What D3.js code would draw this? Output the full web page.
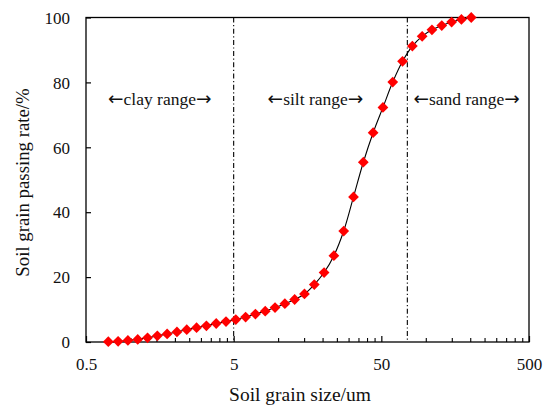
<!DOCTYPE html>
<html>
<head>
<meta charset="utf-8">
<script src="https://cdn.jsdelivr.net/npm/d3@7"></script>
<style>
  html, body { margin: 0; padding: 0; background: #fff; }
  svg { display: block; }
  text { font-family: "Liberation Serif", "Times New Roman", serif; fill: #111; }
</style>
</head>
<body>
<svg id="chart" width="543" height="407"></svg>
<script>
// ---- data ----
const grainSize = [0.708, 0.825, 0.961, 1.12, 1.305, 1.521, 1.772, 2.065, 2.406, 2.804,
  3.268, 3.808, 4.437, 5.17, 6.025, 7.021, 8.18, 9.53, 11.11, 12.94,
  15.08, 17.58, 20.48, 23.86, 27.81, 32.4, 37.76, 44.0, 51.27, 59.74,
  69.6, 81.1, 94.5, 110.1, 128.3, 149.6, 174.3, 203.1];
const passingRate = [0.1, 0.2, 0.5, 0.8, 1.3, 1.9, 2.5, 3.1, 3.8, 4.4,
  5.0, 5.7, 6.3, 6.9, 7.7, 8.6, 9.5, 10.6, 11.8, 13.1,
  14.8, 17.7, 21.4, 26.6, 34.2, 44.7, 55.4, 64.5, 72.3, 80.1,
  86.5, 91.2, 94.2, 96.2, 97.5, 98.6, 99.4, 100];
const xTickValues = [0.5, 5, 50, 500];
const yTickValues = [0, 20, 40, 60, 80, 100];
const boundaries = [5, 75];
const rangeLabels = ["clay range", "silt range", "sand range"];
const rangeLabelX = [1.58, 17.9, 189];
const rangeLabelY = 73;
const xTitle = "Soil grain size/um";
const yTitle = "Soil grain passing rate/%";

// ---- layout ----
const L = 86, R = 529, T = 17.5, B = 342;
const svg = d3.select("#chart");
const x = d3.scaleLog().domain([0.5, 500]).range([L, R]);
const y = d3.scaleLinear().domain([0, 100]).range([B, T]);

// minor ticks (multiples of each decade's base)
const minorTicks = [];
xTickValues.slice(0, -1).forEach(b => { for (let k = 2; k <= 9; k++) minorTicks.push(b * k); });

// frame
svg.append("rect").attr("x", L).attr("y", T).attr("width", R - L).attr("height", B - T)
  .attr("fill", "none").attr("stroke", "#000").attr("stroke-width", 1.3);

// x axis major
const gx = svg.append("g").attr("transform", `translate(0,${B})`)
  .call(d3.axisBottom(x).tickValues(xTickValues).tickSize(-6).tickPadding(0).tickFormat(d3.format("")));
gx.select(".domain").remove();
gx.selectAll("line").attr("stroke", "#000").attr("stroke-width", 1.2);
gx.selectAll("text").attr("font-size", 17).attr("dy", null).attr("y", 28)
  .style("font-family", '"Liberation Serif", serif').attr("fill", "#111");

// x axis minor
const gxm = svg.append("g").attr("transform", `translate(0,${B})`)
  .call(d3.axisBottom(x).tickValues(minorTicks).tickSize(-4).tickFormat(""));
gxm.select(".domain").remove();
gxm.selectAll("line").attr("stroke", "#000").attr("stroke-width", 1.1);

// y axis
const gy = svg.append("g").attr("transform", `translate(${L},0)`)
  .call(d3.axisLeft(y).tickValues(yTickValues).tickSize(-5).tickPadding(0));
gy.select(".domain").remove();
gy.selectAll("line").attr("stroke", "#000").attr("stroke-width", 1.2);
gy.selectAll("text").attr("font-size", 17).attr("x", -16).attr("dy", "0.34em")
  .style("font-family", '"Liberation Serif", serif').attr("fill", "#111");

// boundaries
svg.selectAll(".bnd").data(boundaries).enter().append("line")
  .attr("x1", d => x(d)).attr("x2", d => x(d)).attr("y1", y(100)).attr("y2", y(0))
  .attr("stroke", "#000").attr("stroke-width", 1.1).attr("stroke-dasharray", "5,2.5,1.2,2.5");

// range labels
const rl = svg.selectAll(".rl").data(rangeLabels).enter().append("text")
  .attr("x", (d, i) => x(rangeLabelX[i])).attr("y", y(rangeLabelY))
  .attr("text-anchor", "middle").attr("font-size", 17.5);
rl.append("tspan").style("font-family", '"DejaVu Sans", sans-serif').attr("font-size", 18.5).text("\u2190");
rl.append("tspan").text(d => d);
rl.append("tspan").style("font-family", '"DejaVu Sans", sans-serif').attr("font-size", 18.5).text("\u2192");

// curve
const pts = grainSize.map((g, i) => [x(g), y(passingRate[i])]);
svg.append("path").attr("d", d3.line().curve(d3.curveCatmullRom.alpha(0.5))(pts))
  .attr("fill", "none").attr("stroke", "#000").attr("stroke-width", 1.1);

// markers
const sym = d3.symbol().type(d3.symbolSquare).size(58);
svg.selectAll(".pt").data(pts).enter().append("path")
  .attr("d", sym).attr("transform", d => `translate(${d[0]},${d[1]}) rotate(45)`)
  .attr("fill", "#ff0000");

// titles
svg.append("text").attr("x", 300).attr("y", 401).attr("text-anchor", "middle")
  .attr("font-size", 19.5).text(xTitle);
svg.append("text").attr("transform", `translate(29,182.5) rotate(-90)`)
  .attr("text-anchor", "middle").attr("font-size", 18.8).text(yTitle);
</script>
</body>
</html>
